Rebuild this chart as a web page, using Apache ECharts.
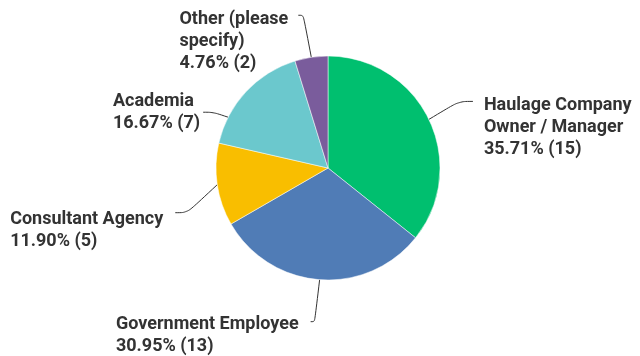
<!DOCTYPE html>
<html><head><meta charset="utf-8">
<script src="https://cdn.jsdelivr.net/npm/echarts@6/dist/echarts.min.js"></script>
<style>html,body{margin:0;padding:0;background:#fff}#c{width:640px;height:356px}</style>
</head><body><div id="c"></div>
<script>
// ---- data ----
const categories = ['Haulage Company\nOwner / Manager', 'Government Employee', 'Consultant Agency', 'Academia', 'Other (please\nspecify)'];
const counts = [15, 13, 5, 7, 2];
const colors = ['#00BF6F', '#507CB6', '#F9BE00', '#6BC8CD', '#7A5C9C'];

// ---- layout config (label annotation placement, not data) ----
const CX = 328, CY = 168, R = 112;
const labelPlacement = [
  {frac: 0.5,   dx: 44,  dy: -18, bend: 14, gap: 11, anchor: 7},
  {frac: 0.5,   dx: -9,  dy: 42,  bend: 4,  gap: 12, anchor: 8},
  {frac: 0.5,   dx: -42, dy: 28,  bend: 12, gap: 12, anchor: 4},
  {frac: 0.235, dx: -25, dy: -5,  bend: 10, gap: 3,  anchor: 22},
  {frac: 0.5,   dx: -13, dy: -42, bend: 5,  gap: 10, anchor: 7}
];

const total = counts.reduce((a, b) => a + b, 0);
const cum = [];
counts.reduce((acc, v, i) => { cum[i] = acc; return acc + v; }, 0);
function edgePoint(i) {
  const p = labelPlacement[i];
  const theta = (cum[i] + counts[i] * p.frac) / total * 2 * Math.PI; // clockwise from top
  return [CX + R * Math.sin(theta), CY - R * Math.cos(theta)];
}

const chart = echarts.init(document.getElementById('c'), null, {renderer: 'canvas'});
chart.setOption({
  backgroundColor: '#fff',
  animation: false,
  series: [{
    type: 'pie',
    center: [CX, CY],
    radius: [0, R],
    startAngle: 90,
    clockwise: true,
    data: categories.map((n, i) => ({name: n, value: counts[i], itemStyle: {color: colors[i]}})),
    itemStyle: {borderColor: '#fff', borderWidth: 0.5},
    label: {
      show: true,
      formatter: p => p.name + '\n' + (p.value / total * 100).toFixed(2) + '% (' + p.value + ')',
      fontFamily: 'Roboto',
      fontWeight: 'bold',
      fontSize: 18,
      lineHeight: 22,
      color: '#333',
      align: 'left'
    },
    labelLine: {show: true, length: 10, length2: 10, smooth: 0.35, lineStyle: {color: '#333', width: 1}},
    labelLayout: params => {
      const i = params.dataIndex;
      const pl = labelPlacement[i];
      const p0 = edgePoint(i);
      const end = [p0[0] + pl.dx, p0[1] + pl.dy];
      const right = pl.dx > 0;
      const p1 = [end[0] + (right ? -pl.bend : pl.bend), end[1]];
      const x = right ? end[0] + pl.gap : end[0] - pl.gap - params.labelRect.width;
      return {x: x, y: end[1] - pl.anchor, align: 'left', verticalAlign: 'top', labelLinePoints: [p0, p1, end]};
    }
  }]
});
</script></body></html>
